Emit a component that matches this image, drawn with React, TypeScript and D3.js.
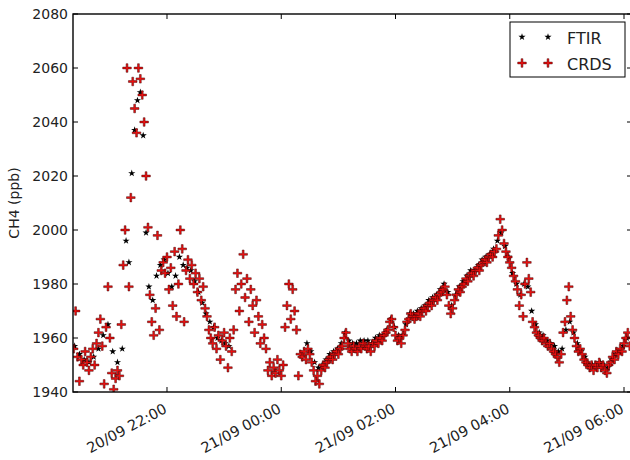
import React from "react";
import * as d3 from "d3";

// ---------- data ----------
const yTicks = [1940, 1960, 1980, 2000, 2020, 2040, 2060, 2080];
const xTickMinutes = [120, 240, 360, 480, 600]; // minutes after 20/09 20:00
const xTickLabels = ["20/09 22:00", "21/09 00:00", "21/09 02:00", "21/09 04:00", "21/09 06:00"];
const seriesNames = ["FTIR", "CRDS"];
const yLabel = "CH4 (ppb)";

// CRDS: one value every 2 minutes starting 20/09 20:22
const crdsStartMinute = 22;
const crdsStepMinutes = 2;
const crdsCH4 = [
  1956, 1970, 1953, 1944, 1952, 1950, 1955, 1951, 1948, 1953,
  1956, 1950, 1958, 1962, 1967, 1957, 1943, 1964, 1979, 1960,
  1947, 1941, 1945, 1948, 1946, 1965, 1987, 2000, 2060, 1979,
  2012, 2055, 2045, 2036, 2060, 2056, 2050, 2040, 2020, 2001,
  1976, 1966, 1961, 1971, 1998, 1963, 1985, 1988, 1984, 1990,
  1978, 1986, 1972, 1992, 1968, 1980, 2000, 1993, 1966, 1985,
  1989, 1982, 1987, 1980, 1984, 1977, 1982, 1974, 1979, 1971,
  1968, 1963, 1960, 1958, 1964, 1956, 1961, 1952, 1959, 1962,
  1957, 1949, 1960, 1955, 1963, 1978, 1984, 1970, 1980, 1991,
  1975, 1982, 1966, 1978, 1972, 1962, 1974, 1968, 1958, 1965,
  1960, 1956, 1948, 1951, 1946, 1949, 1947, 1952, 1948, 1946,
  1950, 1964, 1972, 1980, 1967, 1978, 1970, 1963, 1946, 1954,
  1953, 1955, 1952, 1956, 1954, 1951, 1948, 1944, 1946, 1943,
  1948, 1950, 1949, 1951, 1952, 1953, 1952, 1954, 1955, 1954,
  1956, 1957, 1960, 1962, 1958, 1956, 1955, 1957, 1956, 1955,
  1957, 1956, 1958, 1957, 1956, 1957, 1955, 1958, 1957, 1959,
  1958, 1960, 1959, 1961, 1962, 1963, 1966, 1967, 1964, 1961,
  1959, 1960, 1958, 1961, 1963, 1966, 1967, 1969, 1968, 1967,
  1968, 1969, 1968, 1970, 1971, 1970, 1972, 1973, 1972, 1974,
  1975, 1974, 1976, 1977, 1978, 1979, 1976, 1972, 1969, 1971,
  1974, 1976, 1978, 1977, 1979, 1980, 1982, 1981, 1983, 1984,
  1983, 1985, 1986, 1985, 1987, 1988, 1989, 1988, 1990, 1991,
  1990, 1992, 1993, 1998, 2004, 2000, 1995, 1992, 1990, 1988,
  1986, 1983, 1981, 1978, 1972, 1976, 1968, 1980, 1988, 1982,
  1977, 1966, 1964, 1962, 1961, 1960, 1959, 1960, 1958, 1957,
  1958, 1956, 1955, 1954, 1953, 1951, 1954, 1962, 1966, 1974,
  1979, 1968, 1963, 1960, 1957, 1955, 1956, 1954, 1952, 1951,
  1950, 1949, 1950, 1948, 1950, 1949, 1951, 1949, 1950, 1948,
  1947, 1950, 1951, 1953, 1952, 1955, 1954, 1956, 1955, 1958,
  1960, 1962, 1957,
];

// FTIR: measurement minutes after 20/09 20:00 and values
const ftirMinutes = [
  23, 28, 33, 38, 43, 48, 53, 58, 63, 68, 73, 77, 80, 83, 86, 89, 92, 95, 98, 101,
  105, 109, 113, 117, 121, 125, 129, 133, 137, 141, 145, 149, 153, 157, 161, 165, 169, 173, 177, 181,
  185,
  267, 271, 275, 279, 283, 287, 291, 295, 299, 303, 307, 311, 315, 319, 323, 327, 331, 335, 339,
  343, 347, 351, 355, 359, 363, 367, 371, 375, 379, 383, 387, 391, 395, 399, 403, 407, 411, 415, 419,
  423, 427, 431, 435, 439, 443, 447, 451, 455, 459, 463, 467, 471, 475, 479, 483, 487, 491, 495, 499,
  503, 507, 511, 515, 519, 523, 527, 531, 535, 539, 543, 547, 551, 555, 559, 563, 567, 571, 575, 579,
  583, 587, 591, 595, 599, 603,
];
const ftirCH4 = [
  1957, 1954, 1952, 1951, 1953, 1956, 1961, 1965, 1955, 1951, 1956, 1996, 1988, 2021, 2037, 2048, 2051, 2035, 1999, 1979,
  1974, 1983, 1987, 1989, 1984, 1979, 1983, 1990, 1987, 1986, 1985, 1981, 1977, 1973, 1969, 1966, 1964, 1960, 1959, 1958,
  1957,
  1958, 1955, 1951, 1949, 1950, 1952, 1954, 1955, 1956, 1958, 1962, 1959, 1958, 1958, 1959, 1959, 1959, 1958, 1960,
  1961, 1961, 1963, 1967, 1964, 1961, 1961, 1965, 1969, 1969, 1970, 1971, 1972, 1974, 1975, 1976, 1978, 1980, 1977, 1972,
  1976, 1979, 1981, 1983, 1985, 1985, 1987, 1989, 1990, 1991, 1993, 1996, 1999, 1994, 1990, 1984, 1980, 1976, 1980, 1979,
  1970, 1965, 1962, 1961, 1959, 1958, 1957, 1955, 1956, 1963, 1966, 1962, 1958, 1955, 1953, 1950, 1950, 1950, 1951, 1950,
  1949, 1952, 1954, 1955, 1957, 1960,
];

// ---------- layout ----------
const W = 630;
const H = 460;
const left = 73;
const right = 632;
const top = 14;
const bottom = 392;

const base = new Date(2015, 8, 20, 20, 0, 0);
const at = (m: number) => new Date(base.getTime() + m * 60000);

const x = d3.scaleTime().domain([at(21.27), at(608.4)]).range([left, right]);
const y = d3.scaleLinear().domain([1940, 2080]).range([bottom, top]);

const crds = crdsCH4.map((v, i) => ({ t: at(crdsStartMinute + i * crdsStepMinutes), v }));
const ftir = ftirCH4.map((v, i) => ({ t: at(ftirMinutes[i]), v }));

const starPath = d3.symbol(d3.symbolStar, 16)() as string;
const a = 4.3;
const w = 0.9;
const plusPath = `M${-w},${-a}H${w}V${-w}H${a}V${w}H${w}V${a}H${-w}V${w}H${-a}V${-w}H${-w}Z`;

const font = "'DejaVu Sans', sans-serif";

function Plus({ cx, cy }: { cx: number; cy: number }) {
  return <path d={plusPath} transform={`translate(${cx},${cy})`} fill="#ee1010" stroke="#3a0000" strokeWidth={0.6} strokeOpacity={0.8} />;
}
function Star({ cx, cy }: { cx: number; cy: number }) {
  return <path d={starPath} transform={`translate(${cx},${cy})`} fill="#000" />;
}

export default function App() {
  const tick = 5;
  return (
    <svg width={W} height={H} style={{ position: "absolute", left: 0, top: 0, background: "#fff" }} fontFamily={font}>
      <defs>
        <clipPath id="plotclip">
          <rect x={left} y={top} width={right - left} height={bottom - top} />
        </clipPath>
      </defs>
      <rect x={0} y={0} width={W} height={H} fill="#fff" />
      <g clipPath="url(#plotclip)">
        {ftir.map((d, i) => (
          <Star key={"f" + i} cx={x(d.t)} cy={y(d.v)} />
        ))}
        {crds.map((d, i) => (
          <Plus key={"c" + i} cx={x(d.t)} cy={y(d.v)} />
        ))}
      </g>
      {/* frame */}
      <rect x={left} y={top} width={right - left} height={bottom - top} fill="none" stroke="#000" strokeWidth={1.4} />
      {/* y ticks */}
      {yTicks.map((v) => (
        <g key={"y" + v}>
          <line x1={left} x2={left + tick} y1={y(v)} y2={y(v)} stroke="#000" strokeWidth={1} />
          <line x1={right} x2={right - tick} y1={y(v)} y2={y(v)} stroke="#000" strokeWidth={1} />
          <text x={left - 5} y={y(v)} dy="0.36em" textAnchor="end" fontSize={14} fill="#222">
            {v}
          </text>
        </g>
      ))}
      {/* x ticks */}
      {xTickMinutes.map((m, i) => {
        const px = x(at(m));
        return (
          <g key={"x" + m}>
            <line x1={px} x2={px} y1={bottom} y2={bottom - tick} stroke="#000" strokeWidth={1} />
            <line x1={px} x2={px} y1={top} y2={top + tick} stroke="#000" strokeWidth={1} />
            <text transform={`translate(${px + 1},${bottom + 20}) rotate(-28)`} textAnchor="end" fontSize={14.5} fill="#222">
              {xTickLabels[i]}
            </text>
          </g>
        );
      })}
      {/* y label */}
      <text transform={`translate(19,${(top + bottom) / 2}) rotate(-90)`} textAnchor="middle" fontSize={14} fill="#222">
        {yLabel}
      </text>
      {/* legend */}
      <g>
        <rect x={510} y={22} width={115} height={55} fill="#fff" stroke="#000" strokeWidth={1} />
        <Star cx={522} cy={37} />
        <Star cx={548} cy={37} />
        <text x={567} y={43.5} fontSize={16} fill="#222">{seriesNames[0]}</text>
        <Plus cx={522} cy={63} />
        <Plus cx={548} cy={63} />
        <text x={567} y={70} fontSize={16} fill="#222">{seriesNames[1]}</text>
      </g>
    </svg>
  );
}
